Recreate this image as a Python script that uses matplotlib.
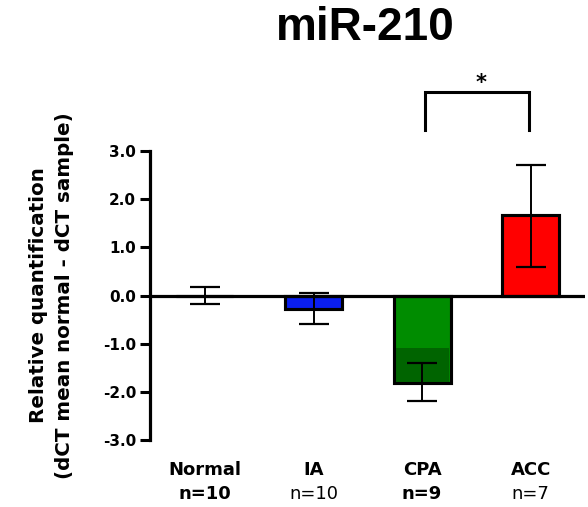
import numpy as np
import matplotlib.pyplot as plt

groups = ["Normal", "IA", "CPA", "ACC"]
n_labels = ["n=10", "n=10", "n=9", "n=7"]
n_bold = [True, False, True, False]
means = [0.0, -0.27, -1.82, 1.68]
err_hi = [0.18, 0.33, 0.42, 1.04]
err_lo = [0.18, 0.33, 0.36, 1.08]
colors = ["#ffffff", "#0a1ef0", "#008c00", "#ff0000"]
# darker shaded part inside the CPA bar
cpa_dark_top = -1.08
cpa_dark_color = "#006400"
yticks = [-3.0, -2.0, -1.0, 0.0, 1.0, 2.0, 3.0]

fig = plt.figure(figsize=(5.88, 5.07), dpi=100)
ax = fig.add_axes([0.2551, 0.1321, 0.7398, 0.570])

x = np.arange(len(groups))
bw = 0.525

ax.bar(x, means, width=bw, color=colors, edgecolor="black", linewidth=2.2, zorder=2)
ax.bar(x[2], means[2] - cpa_dark_top, bottom=cpa_dark_top, width=bw - 0.03,
       color=cpa_dark_color, edgecolor="none", zorder=2.5)
ax.bar(x, means, width=bw, color="none", edgecolor="black", linewidth=2.2, zorder=3)
ax.errorbar(x, means, yerr=[err_lo, err_hi], fmt="none", ecolor="black",
            elinewidth=1.4, capsize=10.5, capthick=1.6, zorder=4)

ax.axhline(0, color="black", linewidth=2.3, zorder=5)

ax.set_xlim(-0.506, 3.5)
ax.set_ylim(-3, 3)
ax.set_xticks([])
ax.set_yticks(yticks)
ax.set_yticklabels([f"{v:.1f}" for v in yticks], fontweight="bold", fontsize=11)
ax.tick_params(axis="y", direction="out", length=7, width=2.2, pad=3)
for s in ["top", "right", "bottom"]:
    ax.spines[s].set_visible(False)
ax.spines["left"].set_linewidth(2.3)

ax.set_ylabel("Relative quantification\n(dCT mean normal - dCT sample)",
              fontsize=14.3, fontweight="bold", linespacing=1.45, va="center")
ax.yaxis.set_label_coords(-0.227, 0.5)

for i in range(len(groups)):
    ax.text(x[i], -3.62, groups[i], ha="center", va="center", fontsize=13,
            fontweight="bold", clip_on=False)
    ax.text(x[i], -4.12, n_labels[i], ha="center", va="center", fontsize=13,
            fontweight="bold" if n_bold[i] else "normal", clip_on=False)

# significance bracket CPA vs ACC
ax.plot([2.03, 2.03, 2.98, 2.98], [3.44, 4.23, 4.23, 3.44], color="black",
        linewidth=2.2, clip_on=False, solid_joinstyle="miter")
ax.text(2.54, 4.42, "*", ha="center", va="center", fontsize=15,
        fontweight="bold", clip_on=False)

fig.text(0.621, 0.945, "miR-210", ha="center", va="center", fontsize=33,
         fontweight="bold", family="Liberation Sans")

fig.savefig("out.png", dpi=100)
